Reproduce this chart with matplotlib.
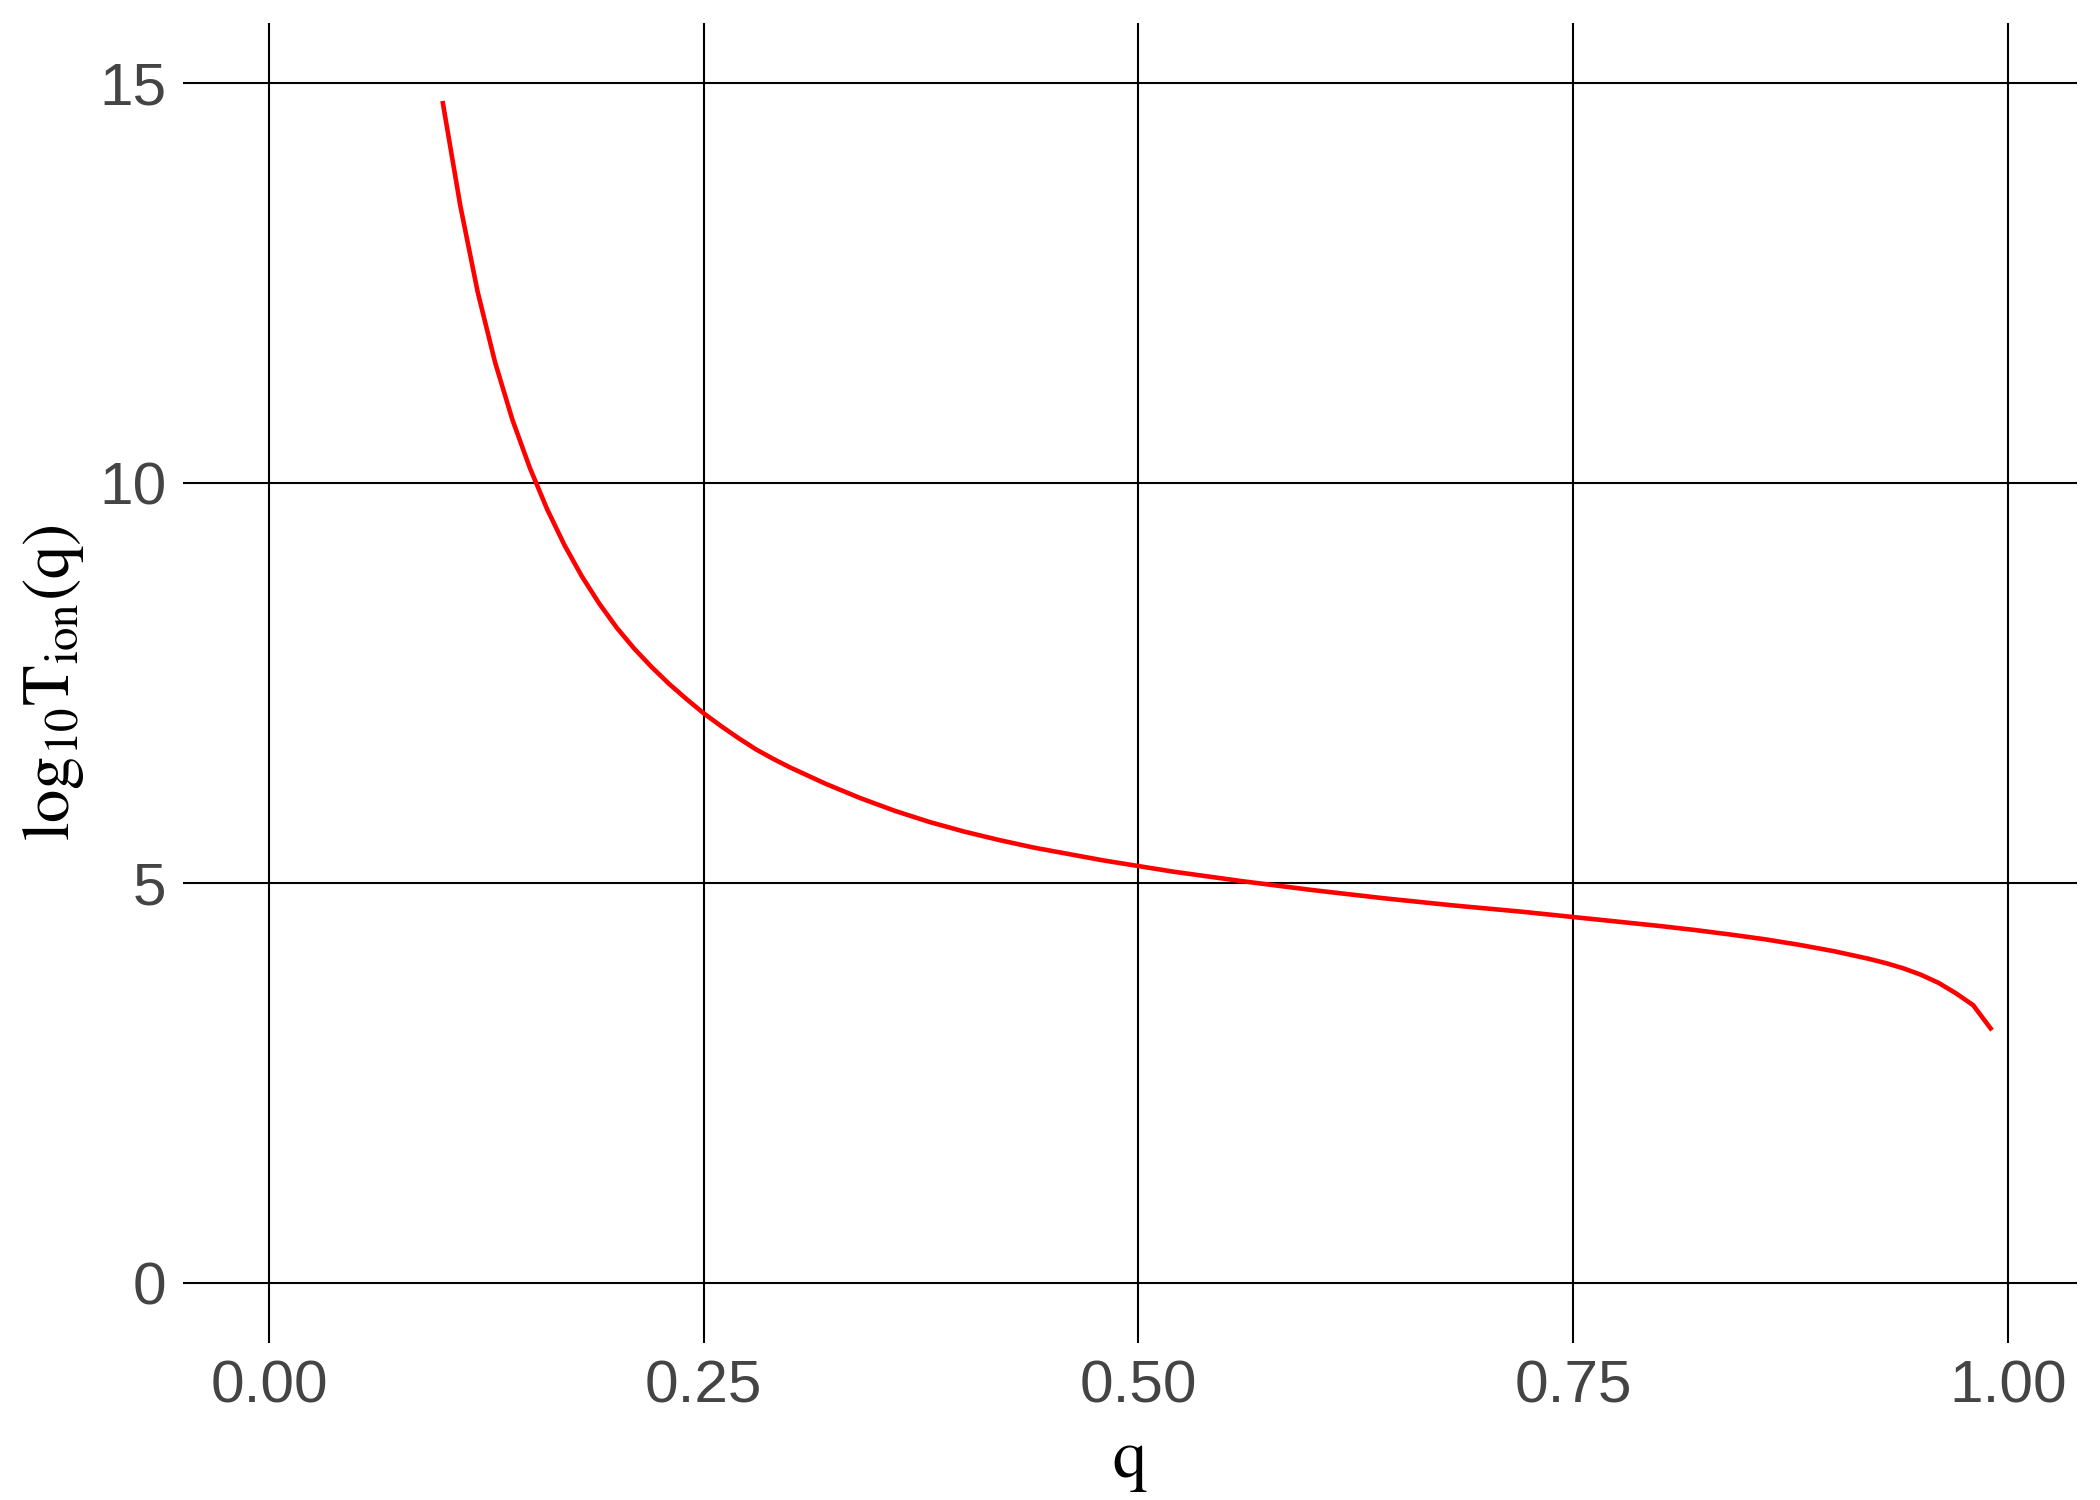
import numpy as np
import matplotlib
matplotlib.use("Agg")
import matplotlib.pyplot as plt

# valores: q e log10 T_ion(q)
q = [0.10, 0.11, 0.12, 0.13, 0.14, 0.15, 0.16, 0.17, 0.18, 0.19,
     0.20, 0.21, 0.22, 0.23, 0.24, 0.25, 0.26, 0.27, 0.28, 0.29,
     0.30, 0.32, 0.34, 0.36, 0.38, 0.40, 0.42, 0.44, 0.46, 0.48,
     0.50, 0.52, 0.54, 0.56, 0.58, 0.60, 0.62, 0.64, 0.66, 0.68,
     0.70, 0.72, 0.74, 0.76, 0.78, 0.80, 0.82, 0.84, 0.86, 0.88,
     0.90, 0.92, 0.93, 0.94, 0.95, 0.96, 0.97, 0.98, 0.99]
log_t = [14.75, 13.47, 12.39, 11.51, 10.79, 10.19, 9.67, 9.22, 8.83, 8.49,
         8.19, 7.93, 7.70, 7.49, 7.30, 7.12, 6.96, 6.81, 6.67, 6.55,
         6.44, 6.24, 6.06, 5.90, 5.76, 5.64, 5.535, 5.44, 5.36, 5.28,
         5.21, 5.14, 5.08, 5.02, 4.965, 4.91, 4.86, 4.81, 4.765, 4.72,
         4.68, 4.64, 4.595, 4.55, 4.505, 4.46, 4.41, 4.355, 4.295, 4.225,
         4.145, 4.05, 3.995, 3.93, 3.85, 3.75, 3.62, 3.47, 3.18]

x_ticks = [0.00, 0.25, 0.50, 0.75, 1.00]
x_labels = ["0.00", "0.25", "0.50", "0.75", "1.00"]
y_ticks = [0, 5, 10, 15]

plt.rcParams['mathtext.fontset'] = 'stix'

fig = plt.figure(figsize=(7, 5), dpi=300)
ax = fig.add_axes([0.0871, 0.1049, 0.9018, 0.8796])

ax.plot(q, log_t, color='#FF0000', lw=1.1)

ax.set_xlim(-0.0495, 1.0395)
ax.set_ylim(-0.75, 15.75)
ax.set_xticks(x_ticks)
ax.set_xticklabels(x_labels)
ax.set_yticks(y_ticks)

ax.grid(True, color='black', lw=0.5)
ax.set_axisbelow(True)
for s in ax.spines.values():
    s.set_visible(False)
ax.tick_params(length=0, pad=4, labelsize=14.5, labelcolor='#444444')
for lab in ax.get_xticklabels() + ax.get_yticklabels():
    lab.set_fontfamily('Liberation Sans')

ax.set_xlabel(r'$\mathrm{q}$', fontsize=16.5, labelpad=3)
ax.set_ylabel(r'$\mathrm{log_{10}T_{ion}(q)}$', fontsize=16, labelpad=3)

fig.savefig('out.png', dpi=300)
